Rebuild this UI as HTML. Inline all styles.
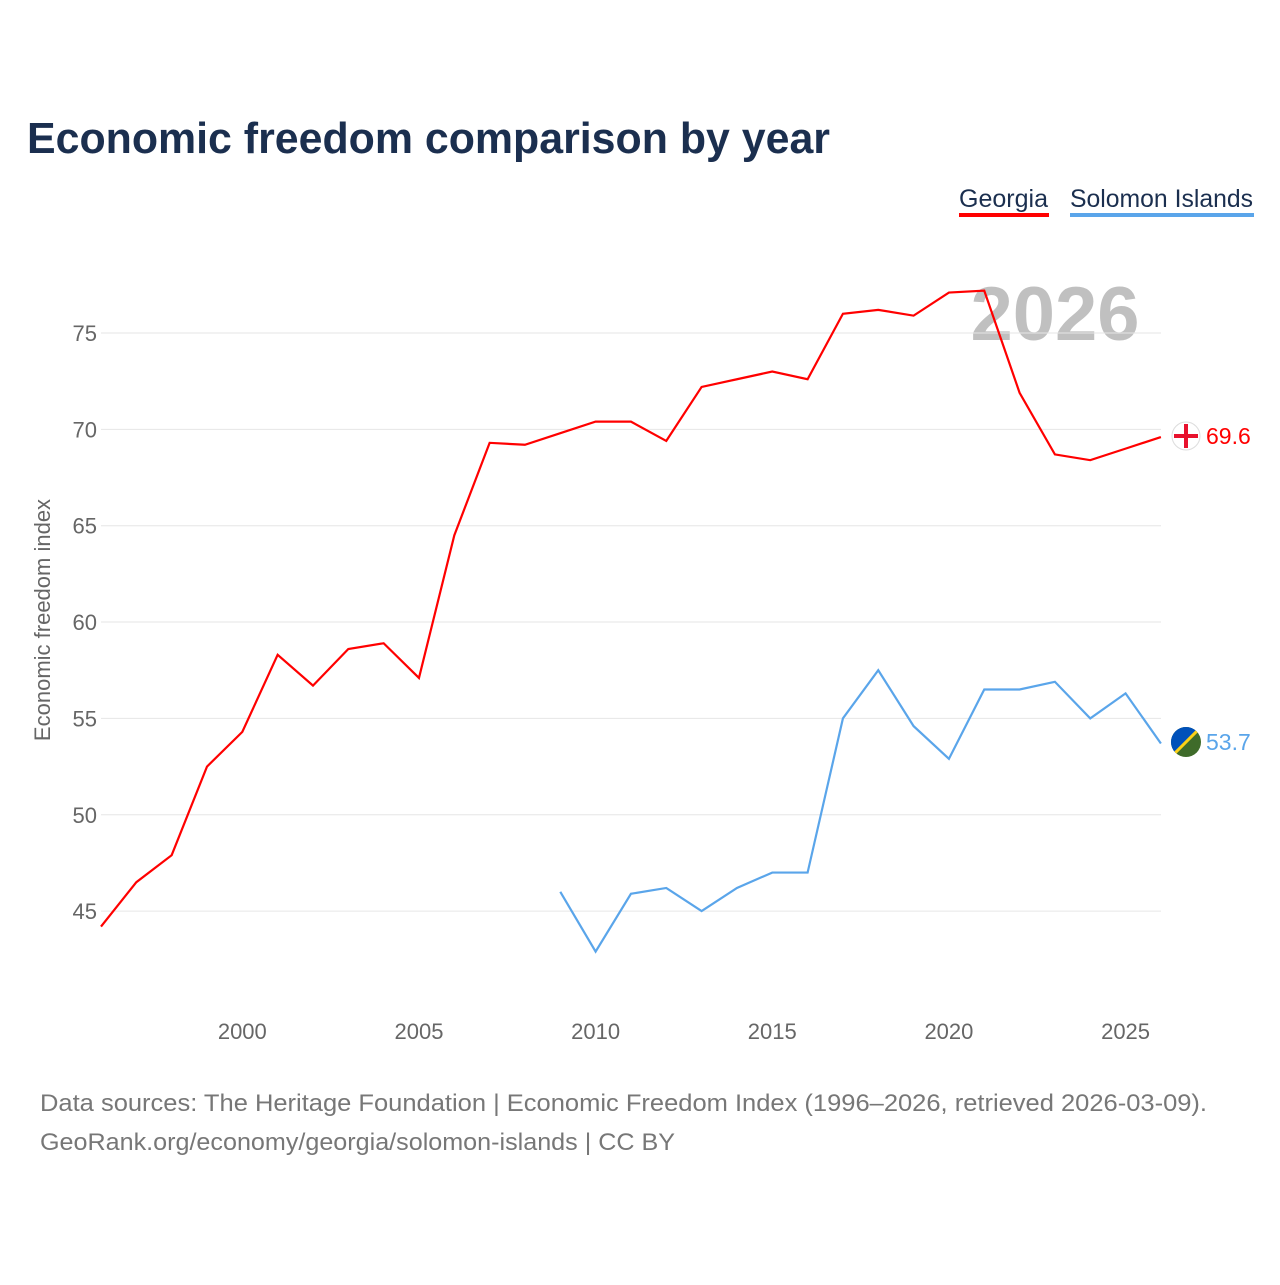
<!DOCTYPE html>
<html><head><meta charset="utf-8"><style>
body{margin:0;background:#fff;font-family:"Liberation Sans",sans-serif}
</style></head><body>
<svg width="1280" height="1280" xmlns="http://www.w3.org/2000/svg" style="font-family:'Liberation Sans',sans-serif">
<defs><clipPath id="sc"><circle cx="1186" cy="742" r="15"/></clipPath></defs>
<text x="27" y="153" font-size="44" font-weight="bold" fill="#1b2f4f" textLength="803" lengthAdjust="spacingAndGlyphs">Economic freedom comparison by year</text>
<g>
<text x="959" y="207" font-size="25" fill="#1b2f4f" textLength="89" lengthAdjust="spacingAndGlyphs">Georgia</text>
<rect x="959" y="213" width="90" height="4" fill="#ff0000"/>
<text x="1070" y="207" font-size="25" fill="#1b2f4f" textLength="183" lengthAdjust="spacingAndGlyphs">Solomon Islands</text>
<rect x="1070" y="213" width="184" height="4" fill="#5aa5ea"/>
</g>
<text x="1055" y="340" font-size="76" font-weight="bold" fill="#c0c0c0" text-anchor="middle">2026</text>
<g id="grid"></g><g id="xt"></g><g id="lines"></g>
<text transform="translate(50,620) rotate(-90)" font-size="22" fill="#666" text-anchor="middle">Economic freedom index</text>
<g>
<circle cx="1186" cy="436" r="14" fill="#fff" stroke="#ddd"/>
<rect x="1184" y="424" width="4" height="24" fill="#e8112d"/><rect x="1174" y="434" width="24" height="4" fill="#e8112d"/>
</g>
<g clip-path="url(#sc)">
<rect x="1170" y="726" width="32" height="32" fill="#3f6b2a"/>
<polygon points="1170,726 1202,726 1170,758" fill="#0051ba"/>
<line x1="1172" y1="756" x2="1200" y2="728" stroke="#fcd116" stroke-width="3"/>
</g>
<text x="1206" y="444" font-size="23" fill="#ff0000">69.6</text>
<text x="1206" y="750" font-size="23" fill="#5aa5ea">53.7</text>
<text x="40" y="1111" font-size="24" fill="#777" textLength="1167" lengthAdjust="spacingAndGlyphs">Data sources: The Heritage Foundation | Economic Freedom Index (1996–2026, retrieved 2026-03-09).</text>
<text x="40" y="1150" font-size="24" fill="#777" textLength="635" lengthAdjust="spacingAndGlyphs">GeoRank.org/economy/georgia/solomon-islands | CC BY</text>
</svg>
<script>
const years=[1996,1997,1998,1999,2000,2001,2002,2003,2004,2005,2006,2007,2008,2009,2010,2011,2012,2013,2014,2015,2016,2017,2018,2019,2020,2021,2022,2023,2024,2025,2026];
const georgia=[44.2,46.5,47.9,52.5,54.3,58.3,56.7,58.6,58.9,57.1,64.5,69.3,69.2,69.8,70.4,70.4,69.4,72.2,72.6,73.0,72.6,76.0,76.2,75.9,77.1,77.2,71.9,68.7,68.4,69.0,69.6];
const solomonYears=[2009,2010,2011,2012,2013,2014,2015,2016,2017,2018,2019,2020,2021,2022,2023,2024,2025,2026];
const solomon=[46.0,42.9,45.9,46.2,45.0,46.2,47.0,47.0,55.0,57.5,54.6,52.9,56.5,56.5,56.9,55.0,56.3,53.7];
const yTicks=[45,50,55,60,65,70,75];
const xTicks=[2000,2005,2010,2015,2020,2025];
const NS="http://www.w3.org/2000/svg";
const X=y=>101+(y-1996)*35.33;
const Y=v=>333+(75-v)*19.27;
function mk(t,a,p){const e=document.createElementNS(NS,t);for(const k in a)e.setAttribute(k,a[k]);p.appendChild(e);return e;}
const g=document.getElementById('grid');
yTicks.forEach(v=>{
const l=mk('line',{x1:101,x2:1161,y1:Y(v),y2:Y(v),stroke:'#e6e6e6'},g);


const t=mk('text',{x:97,y:Y(v)+8,'font-size':22,fill:'#666','text-anchor':'end'},g);t.textContent=v;


});
const xt=document.getElementById('xt');
xTicks.forEach(v=>{
const t=mk('text',{x:X(v),y:1039,'font-size':22,fill:'#666','text-anchor':'middle'},xt);t.textContent=v;


});
const L=document.getElementById('lines');
const p1=mk('polyline',{points:years.map((y,i)=>X(y)+','+Y(georgia[i])).join(' '),fill:'none',stroke:'#ff0000','stroke-width':2.2},L);


const p2=mk('polyline',{points:solomonYears.map((y,i)=>X(y)+','+Y(solomon[i])).join(' '),fill:'none',stroke:'#5aa5ea','stroke-width':2.2},L);


</script>
</body></html>
